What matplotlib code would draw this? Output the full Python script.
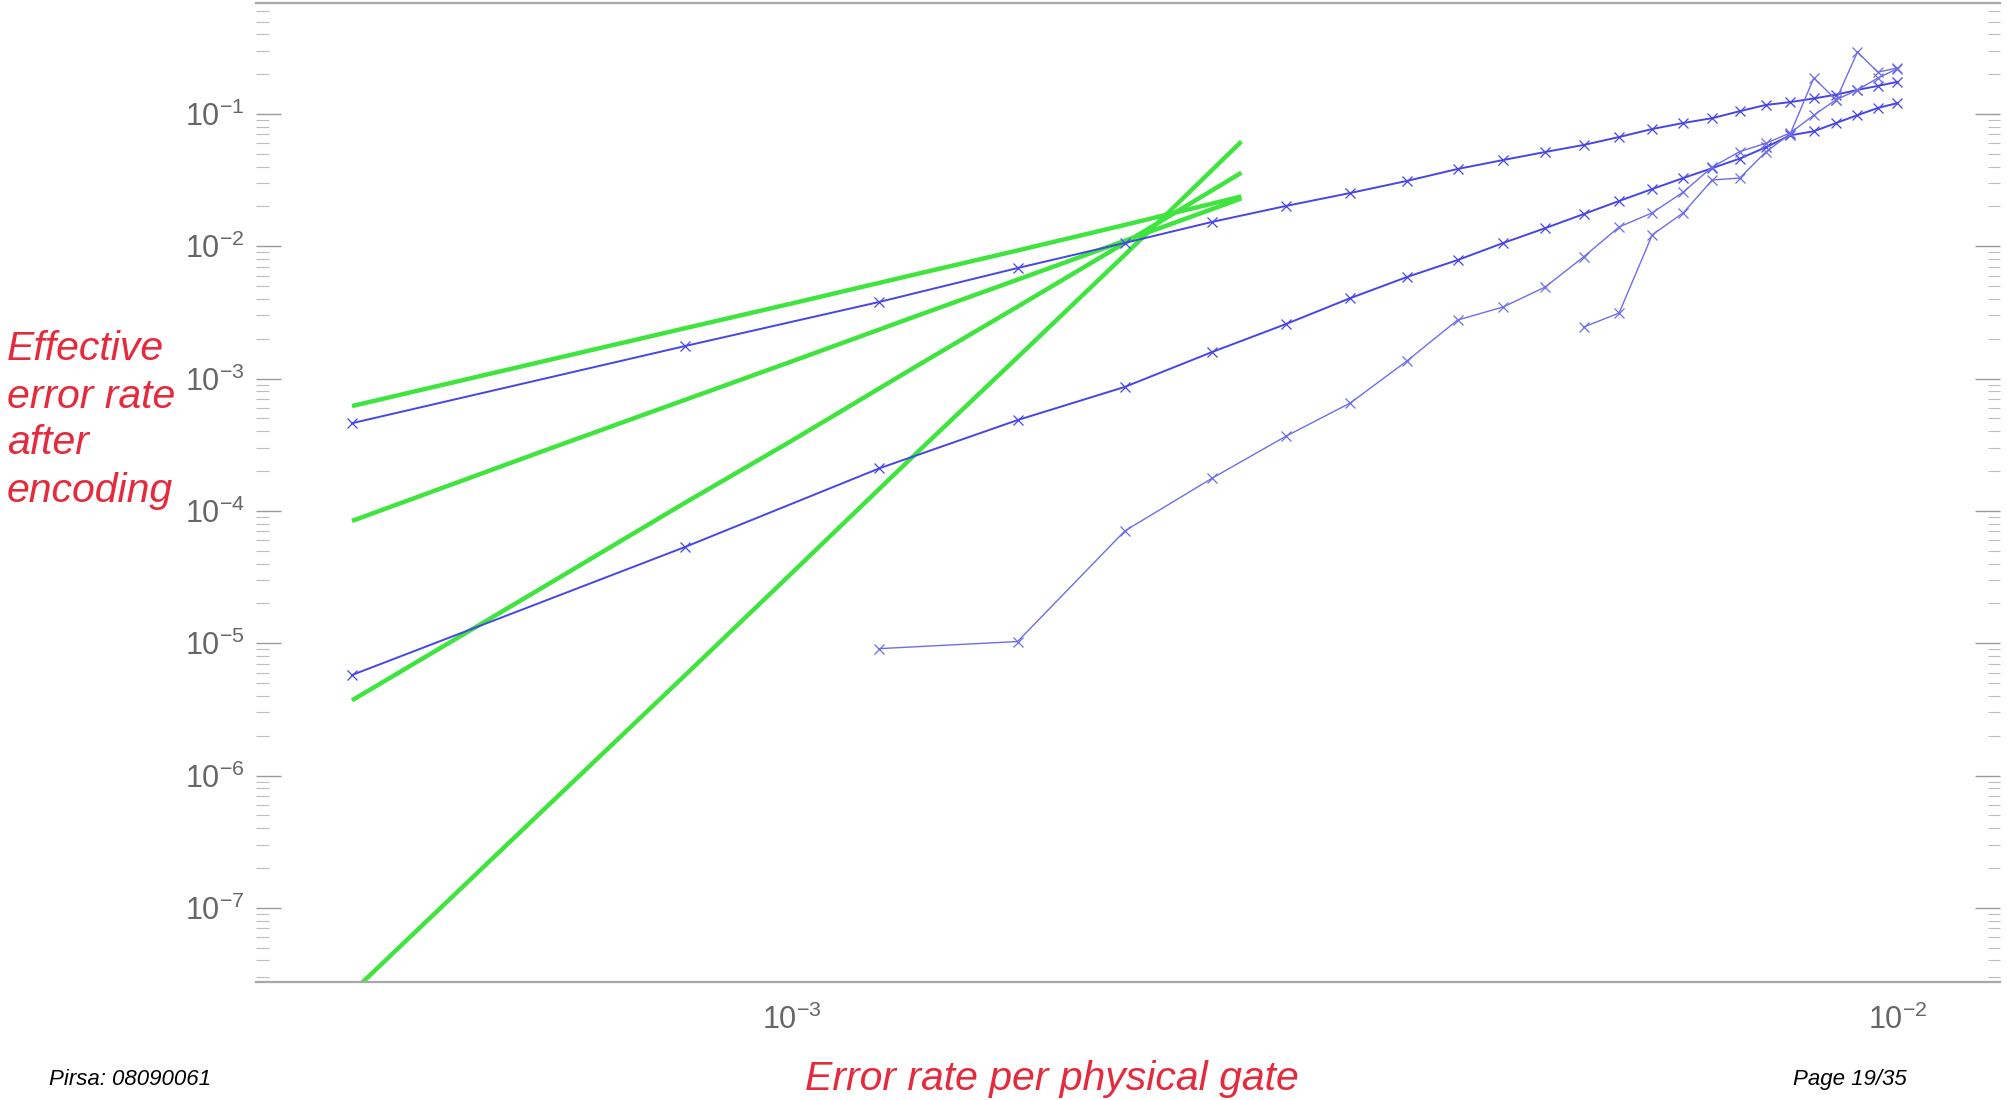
import matplotlib
matplotlib.use("Agg")
import matplotlib.pyplot as plt
from matplotlib.ticker import LogLocator, NullFormatter, FixedLocator

plt.rcParams['font.family'] = ['Liberation Sans', 'DejaVu Sans']
plt.rcParams['mathtext.fontset'] = 'custom'
plt.rcParams['mathtext.rm'] = 'Liberation Sans'
plt.rcParams['mathtext.it'] = 'Liberation Sans:italic'
plt.rcParams['mathtext.default'] = 'regular'

# green curves (analytic estimates)
green_x = [4.0e-4, 6.0e-4, 8.0e-4, 1.0e-3, 1.3e-3, 1.6e-3, 2.0e-3, 2.55e-3]
green_1 = [6.2e-4, 1.37e-3, 2.4e-3, 3.7e-3, 6.2e-3, 9.3e-3, 1.45e-2, 2.38e-2]
green_2 = [8.4e-5, 2.9e-4, 6.9e-4, 1.35e-3, 3.0e-3, 5.6e-3, 1.1e-2, 2.3e-2]
green_3 = [3.7e-6, 2.75e-5, 1.15e-4, 3.4e-4, 1.26e-3, 3.5e-3, 1.06e-2, 3.6e-2]
green_4 = [2.3e-8, 5.8e-7, 5.7e-6, 3.4e-5, 2.8e-4, 1.45e-3, 8.6e-3, 6.2e-2]

# blue curves (simulation points)
blue_x = [0.0004, 0.0008, 0.0012, 0.0016, 0.0020, 0.0024, 0.0028, 0.0032,
          0.0036, 0.0040, 0.0044, 0.0048, 0.0052, 0.0056, 0.0060, 0.0064,
          0.0068, 0.0072, 0.0076, 0.0080, 0.0084, 0.0088, 0.0092, 0.0096,
          0.0100]
blue_1 = [4.6e-4, 1.76e-3, 3.8e-3, 6.85e-3, 1.06e-2, 1.53e-2, 2.02e-2, 2.53e-2,
          3.12e-2, 3.84e-2, 4.49e-2, 5.16e-2, 5.83e-2, 6.7e-2, 7.7e-2, 8.55e-2,
          9.3e-2, 0.105, 0.117, 0.123, 0.131, 0.140, 0.152, 0.163, 0.175]
blue_2 = [5.75e-6, 5.33e-5, 2.1e-4, 4.86e-4, 8.65e-4, 1.59e-3, 2.59e-3, 4.06e-3,
          5.86e-3, 7.87e-3, 1.06e-2, 1.37e-2, 1.75e-2, 2.2e-2, 2.71e-2, 3.28e-2,
          3.9e-2, 4.6e-2, 5.6e-2, 6.9e-2, 7.4e-2, 8.55e-2, 9.8e-2, 0.111, 0.121]
blue_3 = [9.1e-6, 1.03e-5, 7.05e-5, 1.77e-4, 3.68e-4, 6.55e-4, 1.36e-3, 2.77e-3,
          3.48e-3, 4.92e-3, 8.3e-3, 1.4e-2, 1.79e-2, 2.57e-2, 3.98e-2, 5.2e-2,
          6.0e-2, 7.2e-2, 9.8e-2, 0.128, 0.152, 0.187, 0.22]
blue_4 = [2.45e-3, 3.13e-3, 1.22e-2, 1.79e-2, 3.17e-2, 3.28e-2, 5.16e-2, 7.1e-2,
          0.187, 0.128, 0.294, 0.207, 0.223]

x_ticks = [1e-3, 1e-2]

GREEN = '#3fe43f'
BLUE = '#4646e8'
BLUE_LIGHT = '#6e6ee8'
RED = '#e52a3c'
GRAY = '#666666'

fig = plt.figure(figsize=(20.07, 11.0), dpi=100)
ax = fig.add_axes([256 / 2007, 1 - 982 / 1100, (2000 - 256) / 2007, (982 - 3) / 1100])

for g in (green_1, green_2, green_3, green_4):
    ax.plot(green_x, g, color=GREEN, lw=3.2, solid_capstyle='butt', zorder=2)

mk = dict(marker='x', markersize=7, markeredgewidth=0.9)
ax.plot(blue_x, blue_1, color=BLUE, lw=1.4, zorder=3, **mk)
ax.plot(blue_x, blue_2, color=BLUE, lw=1.4, zorder=3, **mk)
ax.plot(blue_x[2:], blue_3, color=BLUE_LIGHT, lw=1.0, zorder=3, **mk)
ax.plot(blue_x[12:], blue_4, color=BLUE_LIGHT, lw=1.0, zorder=3, **mk)

ax.set_xscale('log')
ax.set_yscale('log')
ax.set_xlim(3.275e-4, 1.238e-2)
ax.set_ylim(2.75e-8, 0.69)

# y axis: ticks on both sides, pointing in
ax.yaxis.set_major_locator(LogLocator(base=10, numticks=20))
ax.yaxis.set_minor_locator(LogLocator(base=10, subs=range(2, 10), numticks=20))
ax.yaxis.set_minor_formatter(NullFormatter())
ax.tick_params(axis='y', which='major', direction='in', length=18, width=1.0,
               color='#9a9a9a', labelsize=22, labelcolor=GRAY, pad=8,
               left=True, right=True)
ax.tick_params(axis='y', which='minor', direction='in', length=9, width=0.8,
               color='#bdbdbd', left=True, right=True)

# x axis: only the two decade labels, ticks hardly visible
ax.xaxis.set_major_locator(FixedLocator(x_ticks))
ax.xaxis.set_minor_locator(FixedLocator([]))
ax.tick_params(axis='x', which='major', length=0, labelsize=22,
               labelcolor=GRAY, pad=16)

for side in ('left', 'right'):
    ax.spines[side].set_visible(False)
for side in ('top', 'bottom'):
    ax.spines[side].set_color('#a8a8a8')
    ax.spines[side].set_linewidth(1.6)

fig.text(1052 / 2007, 1 - 1079 / 1100, 'Error rate per physical gate',
         color=RED, fontsize=29.5, style='italic', ha='center', va='center')
fig.text(7 / 2007, 1 - 420 / 1100, 'Effective\nerror rate\nafter\nencoding',
         color=RED, fontsize=29.5, style='italic', ha='left', va='center',
         linespacing=1.3)

fig.text(49 / 2007, 0.009, 'Pirsa: 08090061', color='black',
         fontsize=16, style='italic', ha='left', va='bottom')
fig.text(1907 / 2007, 0.009, 'Page 19/35', color='black',
         fontsize=16, style='italic', ha='right', va='bottom')

fig.savefig('out.png', dpi=100)
